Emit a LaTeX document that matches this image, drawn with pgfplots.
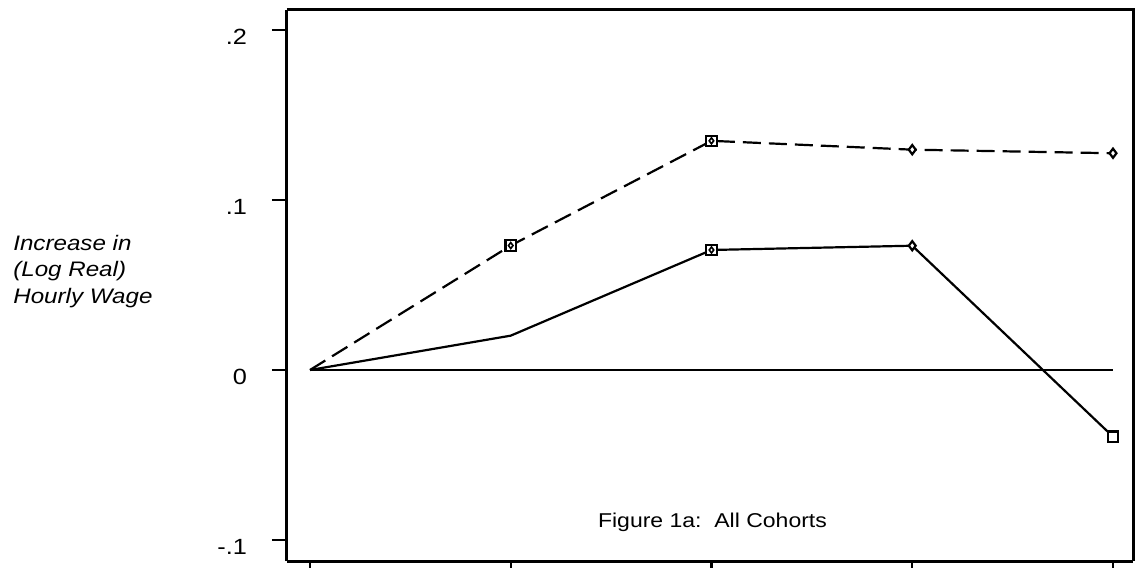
\documentclass[border=0pt]{standalone}
\usepackage{fontspec}
\setmainfont{Liberation Sans}
\newfontfamily\wide[FakeStretch=1.15]{Liberation Sans}
\usepackage{pgfplots}
\pgfplotsset{compat=1.18}
\begin{document}
\begin{tikzpicture}
\begin{axis}[
  scale only axis,
  width=423pt, height=275.5pt,
  xmin=-0.1146, xmax=4.0996,
  ymin=-0.11235, ymax=0.21176,
  axis line style={line width=1.5pt},
  axis x line*=bottom, axis y line*=left,
  clip=false,
  tick align=outside,
  major tick length=7.5pt,
  tick style={line width=1.1pt, black},
  xtick={0,1,2,3,4},
  xticklabels={},
  ytick={-0.1,0,0.1,0.2},
  yticklabels={-.1,0,.1,.2},
  yticklabel style={font=\wide\fontsize{11}{12}\selectfont, anchor=east, yshift=-3.5pt, xshift=-9pt},
]
% full box (top and right sides)
\draw[line width=1.5pt] (rel axis cs:0,1) -- (rel axis cs:1,1) -- (rel axis cs:1,0);
% zero line
\addplot[black, line width=1.1pt, forget plot] coordinates {(0,0) (4,0)};
% solid series
\addplot[black, line width=1.1pt] coordinates {(0,0) (1,0.0202) (2,0.0706) (3,0.0731) (4,-0.0392)};
% dashed series
\addplot[black, line width=1.1pt, dash pattern=on 9pt off 4pt] coordinates {(0,0) (1,0.0732) (2,0.1348) (3,0.1296) (4,0.1275)};
% square markers
\addplot[only marks, mark=square*, mark size=2.6pt, mark options={fill=white, draw=black, line width=1.1pt, solid}] coordinates {(1,0.0732) (2,0.1348) (2,0.0706) (4,-0.0392)};
% small diamonds inside squares
\addplot[only marks, mark=diamond*, mark size=1.5pt, mark options={fill=white, draw=black, line width=0.8pt, solid}] coordinates {(1,0.0732) (2,0.1348) (2,0.0706)};
% diamonds alone
\addplot[only marks, mark=diamond*, mark size=2.3pt, mark options={fill=white, draw=black, line width=1.1pt, solid}] coordinates {(3,0.1296) (3,0.0731) (4,0.1275)};
% labels
\node[anchor=base west, font=\wide\itshape\fontsize{10.5}{12}\selectfont, inner sep=0pt] at (rel axis cs:-0.3239,0.5644) {Increase in};
\node[anchor=base west, font=\wide\itshape\fontsize{10.5}{12}\selectfont, inner sep=0pt] at (rel axis cs:-0.3239,0.5160) {(Log Real)};
\node[anchor=base west, font=\wide\itshape\fontsize{10.5}{12}\selectfont, inner sep=0pt] at (rel axis cs:-0.3239,0.4682) {Hourly Wage};
\node[anchor=base, font=\wide\fontsize{10}{12}\selectfont, inner sep=0pt] at (axis cs:2.005,-0.0929) {Figure 1a:\ \ All Cohorts};
\coordinate (bl) at (rel axis cs:-0.3392,-0.01089);
\coordinate (tr) at (rel axis cs:1.0130,1.01815);
\end{axis}
\pgfresetboundingbox
\useasboundingbox (bl) rectangle (tr);
\end{tikzpicture}
\end{document}
